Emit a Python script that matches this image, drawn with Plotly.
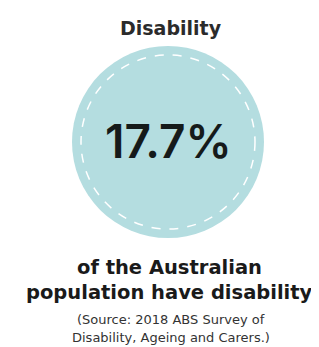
import plotly.graph_objects as go

title = "Disability"
value = 17.7
caption_lines = ["of the Australian", "population have disability"]
source_lines = ["(Source: 2018 ABS Survey of", "Disability, Ageing and Carers.)"]

W, H = 319, 347
cx, cy, r = 160, 134, 96

fig = go.Figure()
fig.add_trace(go.Scatter(x=[cx], y=[cy], mode="markers", marker=dict(opacity=0), hoverinfo="skip", showlegend=False))

fig.add_shape(type="circle", xref="x", yref="y", x0=cx - r, x1=cx + r, y0=cy - r, y1=cy + r,
              fillcolor="#b4dde0", line=dict(width=0), layer="below")
ri = r - 9
fig.add_shape(type="circle", xref="x", yref="y", x0=cx - ri, x1=cx + ri, y0=cy - ri, y1=cy + ri,
              line=dict(color="white", width=1.5, dash="dash"), layer="below")

font = "DejaVu Sans"
fig.add_annotation(x=163, y=20, text=f"<b>{title}</b>", showarrow=False, font=dict(family=font, size=19, color="#2b2b2b"))
fig.add_annotation(x=160, y=133, text=f"{value}%", showarrow=False, font=dict(family="Inter", size=46, color="#151a1a", weight=600))
for i, t in enumerate(caption_lines):
    fig.add_annotation(x=161, y=259 + 25 * i, text=f"<b>{t}</b>", showarrow=False, font=dict(family=font, size=19.5, color="#1a1a1a"))
for i, t in enumerate(source_lines):
    fig.add_annotation(x=163, y=311 + 18 * i, text=t, showarrow=False, font=dict(family=font, size=13, color="#333333"))

fig.update_xaxes(range=[0, W], visible=False, fixedrange=True)
fig.update_yaxes(range=[H, 0], visible=False, fixedrange=True)
fig.update_layout(width=W, height=H, margin=dict(l=0, r=0, t=0, b=0),
                  paper_bgcolor="white", plot_bgcolor="white", showlegend=False)
fig.write_html("out.html", config={"displayModeBar": False})
